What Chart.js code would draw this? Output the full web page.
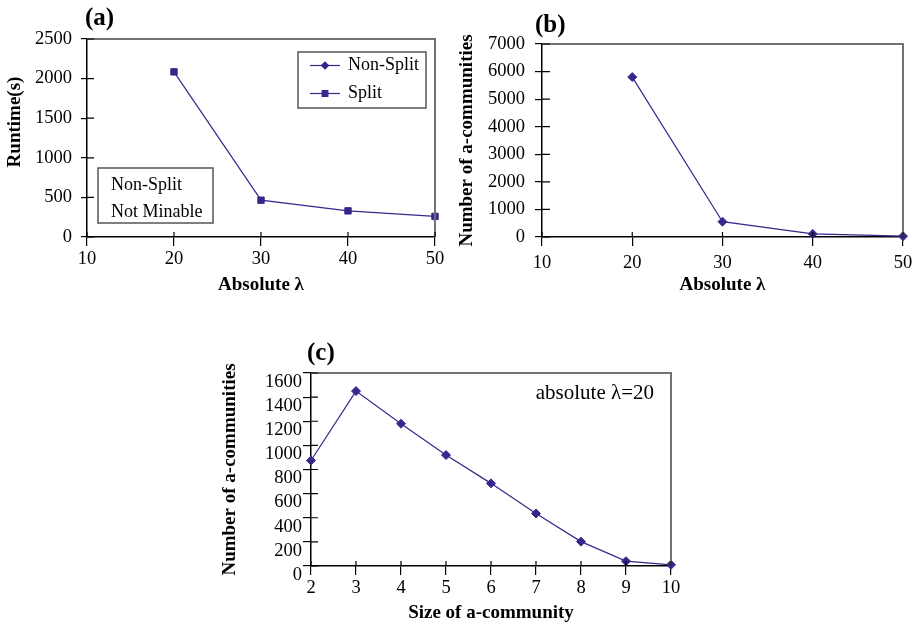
<!DOCTYPE html>
<html>
<head>
<meta charset="utf-8">
<script src="https://cdn.jsdelivr.net/npm/chart.js@4.4.1/dist/chart.umd.min.js"></script>
<style>
  html, body { margin: 0; padding: 0; background: #fff; }
  #page { position: relative; width: 920px; height: 625px; overflow: hidden; }
  canvas { position: absolute; }
</style>
</head>
<body>
<div id="page">
  <canvas id="chartA" width="460" height="300" style="left:0;top:0"></canvas>
  <canvas id="chartB" width="465" height="300" style="left:455px;top:0"></canvas>
  <canvas id="chartC" width="480" height="285" style="left:210px;top:340px"></canvas>
</div>
<script>
// (a) runtime vs absolute lambda
const lambdaValues = [20, 30, 40, 50];
const splitRuntime = [2085, 465, 330, 260];
const nonSplitRuntime = []; // not minable

// (b) number of a-communities vs absolute lambda
const communityCounts = [5800, 555, 110, 30];

// (c) number of a-communities vs size, absolute lambda = 20
const communitySizes = [2, 3, 4, 5, 6, 7, 8, 9, 10];
const sizeCounts = [875, 1450, 1180, 920, 685, 435, 202, 40, 10];

const SERIF = "'Liberation Serif', 'Times New Roman', serif";
const LINE = '#35288c';
const FRAME = '#727272';

Chart.defaults.color = '#000';
Chart.defaults.font.family = SERIF;

const toPoints = (xs, ys) => xs.map((x, i) => ({ x, y: ys[i] }));

// frame (grey top/right), inner tick stubs, boxes and free text
function decorations(cfg) {
  return {
    id: 'decorations',
    afterDraw(chart) {
      const { ctx, chartArea: a, scales } = chart;
      ctx.save();
      ctx.strokeStyle = FRAME;
      ctx.lineWidth = 2;
      ctx.beginPath();
      ctx.moveTo(a.left, a.top);
      ctx.lineTo(a.right, a.top);
      ctx.lineTo(a.right, a.bottom);
      ctx.stroke();

      ctx.strokeStyle = '#000';
      ctx.lineWidth = 1.2;
      ctx.beginPath();
      scales.x.ticks.forEach(t => {
        const px = scales.x.getPixelForValue(t.value);
        ctx.moveTo(px, a.bottom);
        ctx.lineTo(px, a.bottom - cfg.innerX);
      });
      scales.y.ticks.forEach(t => {
        const py = scales.y.getPixelForValue(t.value);
        ctx.moveTo(a.left, py);
        ctx.lineTo(a.left + cfg.innerY, py);
      });
      ctx.stroke();

      (cfg.boxes || []).forEach(b => {
        ctx.strokeStyle = '#555';
        ctx.lineWidth = 1.5;
        ctx.strokeRect(b.left, b.top, b.width, b.height);
        ctx.font = '18px ' + SERIF;
        ctx.fillStyle = '#000';
        ctx.textBaseline = 'middle';
        ctx.textAlign = 'left';
        b.rows.forEach((row, i) => {
          const y = b.top + b.firstRow + i * b.rowGap;
          let text = row.text;
          if (row.datasetIndex !== undefined) {
            const ds = chart.data.datasets[row.datasetIndex];
            text = ds.label;
            ctx.strokeStyle = ds.borderColor;
            ctx.lineWidth = 1.2;
            ctx.beginPath();
            ctx.moveTo(b.left + 12, y);
            ctx.lineTo(b.left + 42, y);
            ctx.stroke();
            ctx.fillStyle = ds.pointBackgroundColor;
            ctx.strokeStyle = ds.pointBorderColor;
            Chart.helpers.drawPoint(ctx, { pointStyle: ds.pointStyle, radius: row.radius, borderWidth: 1, rotation: 0 }, b.left + 27, y);
            ctx.fillStyle = '#000';
          }
          ctx.fillText(text, b.left + b.textX, y);
        });
      });

      (cfg.texts || []).forEach(t => {
        ctx.save();
        ctx.font = t.font;
        ctx.fillStyle = '#000';
        ctx.textAlign = t.align || 'left';
        ctx.textBaseline = 'middle';
        ctx.translate(t.x, t.y);
        if (t.rotate) ctx.rotate(t.rotate);
        ctx.fillText(t.text, 0, 0);
        ctx.restore();
      });
      ctx.restore();
    }
  };
}

function axisOptions(c) {
  return {
    responsive: false,
    animation: false,
    layout: { padding: { left: 0, bottom: 0, top: c.padTop, right: c.padRight } },
    plugins: { legend: { display: false }, tooltip: { enabled: false } },
    scales: {
      x: {
        type: 'linear',
        min: c.xMin, max: c.xMax,
        afterFit: s => { s.height = c.xHeight; },
        ticks: { stepSize: c.xStep, autoSkip: false, maxRotation: 0, padding: c.xTickPad,
                 format: { useGrouping: false }, font: { size: 18.5 } },
        grid: { drawOnChartArea: false, tickLength: 9, color: '#000', lineWidth: 1.2 },
        border: { color: '#000', width: 1.5 },
        title: { display: true, text: c.xTitle, font: { size: 19, weight: 'bold' }, padding: { top: 0, bottom: c.xTitlePad } }
      },
      y: {
        min: 0, max: c.yMax,
        afterFit: s => { s.width = c.yWidth; },
        ticks: { stepSize: c.yStep, autoSkip: false, padding: c.yTickPad, labelOffset: c.yLabelOffset || 0,
                 format: { useGrouping: false }, font: { size: 18.5 } },
        grid: { drawOnChartArea: false, tickLength: c.yTickLen, color: '#000', lineWidth: 1.2 },
        border: { color: '#000', width: 1.5 },
        title: { display: !!c.yTitle, text: c.yTitle, font: { size: 19, weight: 'bold' }, padding: { top: c.yTitlePad, bottom: 0 } }
      }
    }
  };
}

const lineStyle = (label, data, pointStyle, radius) => ({
  label, data, pointStyle,
  borderColor: LINE, backgroundColor: LINE,
  pointBackgroundColor: LINE, pointBorderColor: LINE,
  borderWidth: 1.2, pointRadius: radius, pointBorderWidth: 1,
  tension: 0, clip: false
});

new Chart(document.getElementById('chartA'), {
  type: 'line',
  data: {
    datasets: [
      lineStyle('Non-Split', toPoints(lambdaValues, nonSplitRuntime), 'rectRot', 4.5),
      lineStyle('Split', toPoints(lambdaValues, splitRuntime), 'rect', 4.5)
    ]
  },
  options: axisOptions({
    padTop: 39, padRight: 25, xHeight: 63, yWidth: 87,
    xMin: 10, xMax: 50, xStep: 10, xTickPad: 2, xTitle: 'Absolute λ', xTitlePad: 3.6,
    yMax: 2500, yStep: 500, yTickPad: 9, yTickLen: 6, yTitle: ''
  }),
  plugins: [decorations({
    innerX: 5, innerY: 7,
    boxes: [
      { left: 298, top: 52, width: 128, height: 56, firstRow: 13.5, rowGap: 28, textX: 50,
        rows: [{ datasetIndex: 0, radius: 3.5 }, { datasetIndex: 1, radius: 4 }] },
      { left: 98, top: 168, width: 115, height: 55, firstRow: 17.5, rowGap: 26.5, textX: 13,
        rows: [{ text: 'Non-Split' }, { text: 'Not Minable' }] }
    ],
    texts: [
      { text: '(a)', x: 85, y: 19, font: 'bold 25px ' + SERIF },
      { text: 'Runtime(s)', x: 15, y: 122, font: 'bold 19px ' + SERIF, align: 'center', rotate: -Math.PI / 2 }
    ]
  })]
});

new Chart(document.getElementById('chartB'), {
  type: 'line',
  data: {
    datasets: [lineStyle('Number of a-communities', toPoints(lambdaValues, communityCounts), 'rectRot', 4.5)]
  },
  options: axisOptions({
    padTop: 44, padRight: 17, xHeight: 63, yWidth: 87,
    xMin: 10, xMax: 50, xStep: 10, xTickPad: 6, xTitle: 'Absolute λ', xTitlePad: 3.6,
    yMax: 7000, yStep: 1000, yTickPad: 10, yTickLen: 7, yTitle: 'Number of a-communities', yTitlePad: 0.6
  }),
  plugins: [decorations({
    innerX: 5, innerY: 8,
    texts: [{ text: '(b)', x: 80, y: 26, font: 'bold 25px ' + SERIF }]
  })]
});

new Chart(document.getElementById('chartC'), {
  type: 'line',
  data: {
    datasets: [lineStyle('Number of a-communities', toPoints(communitySizes, sizeCounts), 'rectRot', 4.5)]
  },
  options: axisOptions({
    padTop: 33, padRight: 19, xHeight: 59, yWidth: 101,
    xMin: 2, xMax: 10, xStep: 1, xTickPad: 2, xTitle: 'Size of a-community', xTitlePad: 0.6,
    yMax: 1600, yStep: 200, yTickPad: 1, yTickLen: 8, yLabelOffset: 9,
    yTitle: 'Number of a-communities', yTitlePad: 8.6
  }),
  plugins: [decorations({
    innerX: 5, innerY: 7,
    texts: [
      { text: '(c)', x: 97, y: 14, font: 'bold 25px ' + SERIF },
      { text: 'absolute λ=20', x: 444, y: 53, font: '21px ' + SERIF, align: 'right' }
    ]
  })]
});
</script>
</body>
</html>
